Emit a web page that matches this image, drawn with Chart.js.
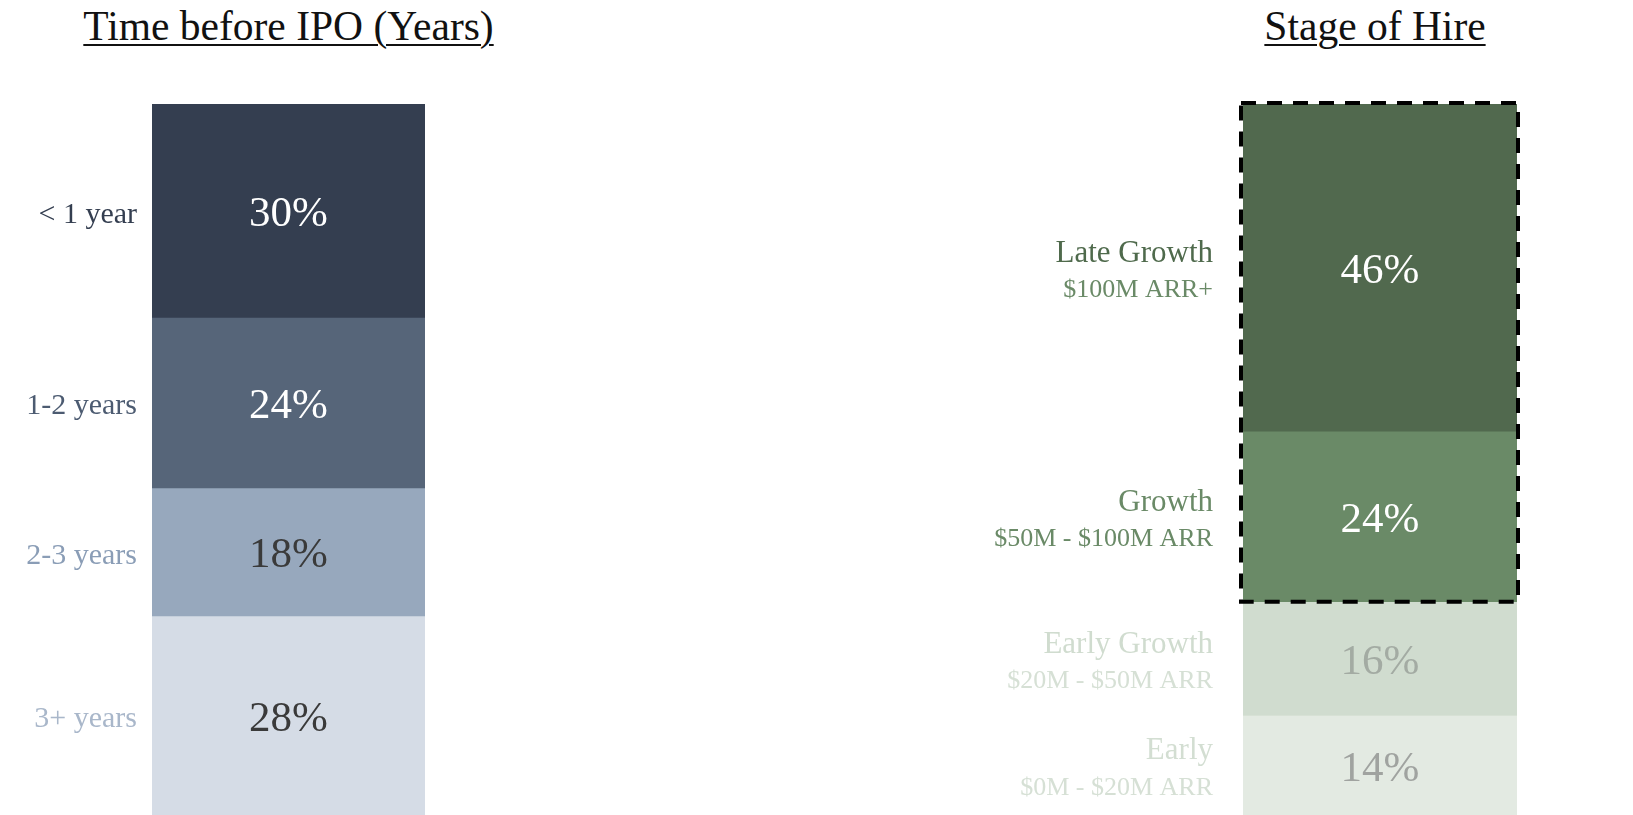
<!DOCTYPE html>
<html>
<head>
<meta charset="utf-8">
<script src="https://cdn.jsdelivr.net/npm/chart.js@4"></script>
<style>
  html, body { margin: 0; padding: 0; background: #ffffff; }
  body { width: 1633px; height: 815px; position: relative; overflow: hidden; font-family: 'Liberation Serif', serif; }
  .title { position: absolute; top: 6px; font-size: 41.5px; line-height: 41px; color: #111; text-align: center; text-decoration: underline; text-decoration-thickness: 2px; text-underline-offset: 4px; }
  #ipoTitle { left: 0; width: 577px; }
  #stageTitle { left: 1175px; width: 400px; }
  .box { position: absolute; top: 0; height: 815px; }
  #ipoBox { left: 0; width: 480px; }
  #stageBox { left: 880px; width: 753px; }
</style>
</head>
<body>
<div class="title" id="ipoTitle">Time before IPO (Years)</div>
<div class="title" id="stageTitle">Stage of Hire</div>
<div class="box" id="ipoBox"><canvas id="ipoChart"></canvas></div>
<div class="box" id="stageBox"><canvas id="stageChart"></canvas></div>
<script>
// time before IPO, top segment first
const ipoCategories = ['< 1 year', '1-2 years', '2-3 years', '3+ years'];
const ipoValues = [30, 24, 18, 28];

// stage of hire, top segment first
const stageCategories = ['Late Growth', 'Growth', 'Early Growth', 'Early'];
const stageRanges = ['$100M ARR+', '$50M - $100M ARR', '$20M - $50M ARR', '$0M - $20M ARR'];
const stageValues = [46, 24, 16, 14];
const highlightedStages = ['Late Growth', 'Growth'];

const FONT = "'Liberation Serif', serif";

const ipoStyle = {
    fill: ['#343e50', '#566579', '#97a8bd', '#d5dce6'],
    label: ['#343e50', '#4c5b71', '#8a9db6', '#a9b7ca'],
    value: ['#ffffff', '#ffffff', '#3a3a3a', '#3a3a3a']
};

const stageStyle = {
    fill: ['#51694e', '#6a8a67', '#d0dccf', '#e3eae2'],
    label: ['#4f6a4c', '#6a8a67', '#d0dccf', '#d3ded2'],
    sub: ['#6a8a67', '#6a8a67', '#d6e0d5', '#d6e0d5'],
    value: ['#ffffff', '#ffffff', '#a3aba3', '#a0a3a0']
};

function segmentBox(chart, i) {
    const bar = chart.getDatasetMeta(i).data[0];
    const p = bar.getProps(['x', 'y', 'base', 'width'], true);
    return {
        left: p.x - p.width / 2,
        right: p.x + p.width / 2,
        top: Math.min(p.y, p.base),
        bottom: Math.max(p.y, p.base),
        cx: p.x,
        cy: (p.y + p.base) / 2
    };
}

// percent inside each segment + category text on the left
function segmentLabels(opts) {
    return {
        id: 'segmentLabels',
        afterDatasetsDraw(chart) {
            const ctx = chart.ctx;
            ctx.save();
            chart.data.datasets.forEach((ds, i) => {
                const b = segmentBox(chart, i);
                ctx.textAlign = 'center';
                ctx.textBaseline = 'middle';
                ctx.font = '43px ' + FONT;
                ctx.fillStyle = opts.value[i];
                ctx.fillText(ds.data[0] + '%', b.cx, b.cy + 4);

                ctx.textAlign = 'right';
                const x = b.left - opts.gap;
                if (opts.ranges) {
                    ctx.font = '31px ' + FONT;
                    ctx.fillStyle = opts.label[i];
                    ctx.fillText(ds.label, x, b.cy - 14);
                    ctx.font = '26px ' + FONT;
                    ctx.fillStyle = opts.sub[i];
                    ctx.fillText(opts.ranges[i], x, b.cy + 23);
                } else {
                    ctx.font = '30px ' + FONT;
                    ctx.fillStyle = opts.label[i];
                    ctx.fillText(ds.label, x, b.cy + 4);
                }
            });
            ctx.restore();
        }
    };
}

// dashed frame around the highlighted stages
const highlightFrame = {
    id: 'highlightFrame',
    afterDraw(chart) {
        const idx = chart.data.datasets
            .map((ds, i) => highlightedStages.includes(ds.label) ? i : -1)
            .filter(i => i >= 0);
        if (!idx.length) return;
        const boxes = idx.map(i => segmentBox(chart, i));
        const left = Math.min(...boxes.map(b => b.left));
        const right = Math.max(...boxes.map(b => b.right));
        const top = Math.min(...boxes.map(b => b.top));
        const bottom = Math.max(...boxes.map(b => b.bottom));
        const ctx = chart.ctx;
        ctx.save();
        ctx.strokeStyle = '#000000';
        ctx.lineWidth = 4;
        ctx.setLineDash([15, 11]);
        ctx.strokeRect(left - 2, top - 1, right - left + 3, bottom - top + 1);
        ctx.restore();
    }
};

function buildStack(canvasId, categories, values, fills, padding, plugins) {
    const ctx = document.getElementById(canvasId).getContext('2d');
    return new Chart(ctx, {
        type: 'bar',
        data: {
            labels: [''],
            datasets: categories.map((cat, i) => ({
                label: cat,
                data: [values[i]],
                backgroundColor: fills[i],
                borderWidth: 0,
                barPercentage: 1,
                categoryPercentage: 1
            }))
        },
        options: {
            responsive: true,
            maintainAspectRatio: false,
            animation: false,
            layout: { padding: padding },
            scales: {
                x: { stacked: true, display: false },
                y: { stacked: true, display: false, reverse: true, min: 0, max: 100 }
            },
            plugins: {
                legend: { display: false },
                tooltip: { enabled: false }
            }
        },
        plugins: plugins
    });
}

buildStack('ipoChart', ipoCategories, ipoValues, ipoStyle.fill,
    { left: 152, right: 55, top: 104, bottom: 0 },
    [segmentLabels({ value: ipoStyle.value, label: ipoStyle.label, gap: 15 })]);

buildStack('stageChart', stageCategories, stageValues, stageStyle.fill,
    { left: 363, right: 116, top: 104, bottom: 0 },
    [segmentLabels({ value: stageStyle.value, label: stageStyle.label, sub: stageStyle.sub, ranges: stageRanges, gap: 30 }), highlightFrame]);
</script>
</body>
</html>
